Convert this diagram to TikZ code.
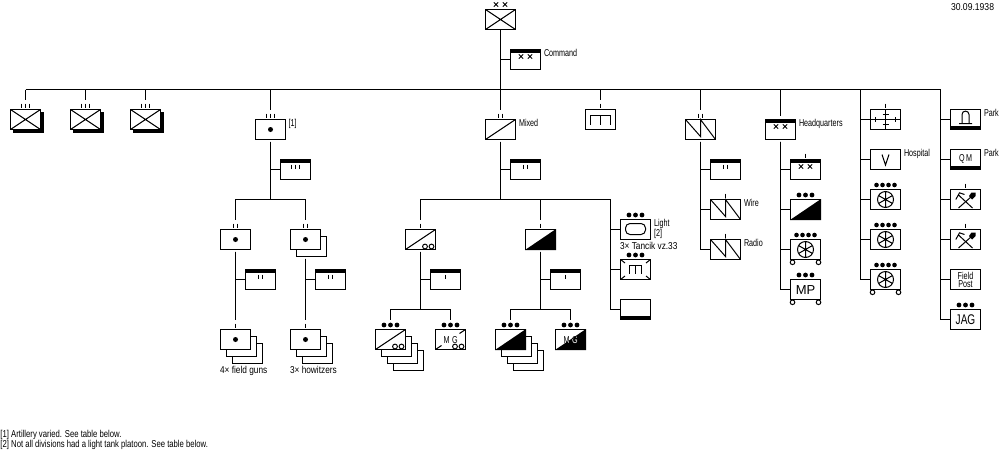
\documentclass[tikz,border=0pt]{standalone}
\usepackage{fontspec}
\newfontfamily\labf[FakeStretch=0.72]{Liberation Sans}
\newfontfamily\labn[FakeStretch=0.77]{Liberation Sans}
\newfontfamily\labw[FakeStretch=0.83]{Liberation Sans}
\newfontfamily\labd[FakeStretch=0.86]{Liberation Sans}
\newfontfamily\bigf{Liberation Sans}
\tikzset{
  ubox/.style={draw=black,fill=white,line width=1pt,inner sep=0pt,outer sep=0pt,minimum width=30pt,minimum height=20pt,anchor=north west,rectangle},
  lab/.style={inner sep=0pt,outer sep=0pt,font=\labf\fontsize{10}{10}\selectfont,text=black,anchor=base west},
  labnote/.style={lab,font=\labn\fontsize{10}{10}\selectfont},
  labwide/.style={lab,font=\labw\fontsize{10}{10}\selectfont},
  labdate/.style={lab,font=\labd\fontsize{10}{10}\selectfont},
  inlab/.style={inner sep=0pt,outer sep=0pt,font=\labf\fontsize{10}{10}\selectfont,text=black,anchor=center},
  postlab/.style={inlab,align=center,font=\labf\fontsize{10}{7.6}\selectfont},
  biglab/.style={inner sep=0pt,outer sep=0pt,font=\bigf\fontsize{13}{13}\selectfont,text=black,anchor=center},
  conn/.style={draw=black,line width=1pt},
}
\newcommand\Unit[3]{\node[ubox] (#1) at ({#2+.5},{#3+.5}) {};}
\newcommand\Stack[4]{\foreach \k in {#4,...,1}{\node[ubox] (#1r\k) at ({#2+.5+6*\k},{#3+.5+7*\k}) {};}\node[ubox] (#1) at ({#2+.5},{#3+.5}) {};}
\newcommand\Sym[2]{\begin{scope}[shift={(#1.center)}]#2\end{scope}}
\newcommand\Lab[4]{\node[lab] (#1) at (#2,#3) {#4};}
\newcommand\LabS[5]{\node[#1] (#2) at (#3,#4) {#5};}
% echelon marks above node
\newcommand\BarA[1]{\Sym{#1}{\draw (0,-16) -- (0,-12);}}
\newcommand\BarB[1]{\Sym{#1}{\draw (-2,-16) -- (-2,-12) (2,-16) -- (2,-12);}}
\newcommand\BarC[1]{\Sym{#1}{\draw (-4,-16) -- (-4,-12) (0,-16) -- (0,-12) (4,-16) -- (4,-12);}}
\newcommand\DotsC[1]{\Sym{#1}{\fill (-6.5,-14.5) circle[radius=2.4pt] (0,-14.5) circle[radius=2.4pt] (6.5,-14.5) circle[radius=2.4pt];}}
\newcommand\DotsD[1]{\Sym{#1}{\fill (-9,-14.5) circle[radius=2.3pt] (-3,-14.5) circle[radius=2.3pt] (3,-14.5) circle[radius=2.3pt] (9,-14.5) circle[radius=2.3pt];}}
\newcommand\TopBand[1]{\Sym{#1}{\fill (-15.5,-10.5) rectangle (15.5,-6.5);}}
\newcommand\BotBand[1]{\Sym{#1}{\fill (-15.5,6.5) rectangle (15.5,10.5);}}
\newcommand\Xs[3]{\Sym{#1}{\draw[line width=.8pt] ({-4.5-2.2},{#2-2.2}) -- ({-4.5+2.2},{#2+2.2}) ({-4.5-2.2},{#2+2.2}) -- ({-4.5+2.2},{#2-2.2}) ({4.5-2.2},{#2-2.2}) -- ({4.5+2.2},{#2+2.2}) ({4.5-2.2},{#2+2.2}) -- ({4.5+2.2},{#2-2.2});}}
\newcommand\Infantry[1]{\Sym{#1}{\draw[line width=1pt] (-15,-10) -- (15,10) (-15,10) -- (15,-10);}}
\newcommand\Art[1]{\Sym{#1}{\fill (0,0) circle[radius=2.5pt];}}
\newcommand\Diag[1]{\Sym{#1}{\draw[line width=1pt] (-15,10) -- (15,-10);}}
\newcommand\Half[1]{\Sym{#1}{\fill (-15.5,10.5) -- (15.5,-10.5) -- (15.5,10.5) -- cycle;}}
\newcommand\Oo[1]{\Sym{#1}{\draw[line width=1pt,fill=white] (4.5,7) circle[radius=2.4pt] (11,7) circle[radius=2.4pt];}}
\newcommand\Bolt[1]{\Sym{#1}{\draw[line width=1pt] (-15,-10) -- (0,7) -- (0,-10) -- (15,10);}}
\newcommand\Wheel[1]{\Sym{#1}{\draw[line width=1pt] (0,0) circle[radius=8pt] (0,-8) -- (0,8) (-7,-4) -- (7,4) (-7,4) -- (7,-4);\fill (0,0) circle[radius=1.2pt];}}
\newcommand\Tyres[1]{\Sym{#1}{\draw[line width=1pt,fill=white] (-13,12.8) circle[radius=2.3pt] (13,12.8) circle[radius=2.3pt];}}
\newcommand\PiSym[3]{\Sym{#1}{\draw[line width=1pt] ({-#2},#3) -- ({-#2},-4) -- (#2,-4) -- (#2,#3) (0,-4) -- (0,#3);}}
\newcommand\Pick[1]{\Sym{#1}{\draw[line width=1pt] (-7,-4.5) -- (7,8.5) (-7,8.5) -- (6,-3) (-9.7,0) -- (-6,-6.7) -- (-1,-5);\fill (3.5,-3.5) -- (6,-7) -- (10,-7) -- (10,-3.5) -- (6.5,0) -- cycle;}}
\begin{document}
\begin{tikzpicture}[x=1pt,y=-1pt,line width=1pt]
\useasboundingbox (0,0) rectangle (1000,450);
\fill[white] (0,0) rectangle (1000,450);

% --- named junctions
\coordinate (bus) at (0,89.5);
\coordinate (cN) at (860.5,89.5);
\coordinate (cE) at (940.5,89.5);
\coordinate (artT) at (270.5,199.5);
\coordinate (mixT) at (500.5,199.5);
\coordinate (cM) at (610.5,199.5);
\coordinate (m1T) at (420.5,309.5);
\coordinate (m2T) at (540.5,309.5);

% --- shadows of the regiments
\fill (13,112) rectangle (44,133);
\fill (73,112) rectangle (104,133);
\fill (133,112) rectangle (164,133);

% --- units
\Unit{div}{485}{9}
\Unit{divhq}{510}{49}
\Unit{reg1}{10}{109}
\Unit{reg2}{70}{109}
\Unit{reg3}{130}{109}
\Unit{art}{255}{119}
\Unit{arthq}{280}{159}
\Unit{mix}{485}{119}
\Unit{mixhq}{510}{159}
\Unit{eng}{585}{109}
\Unit{sig}{685}{119}
\Unit{sighq}{710}{159}
\Unit{wire}{710}{199}
\Unit{radio}{710}{239}
\Unit{hq}{765}{119}
\Unit{hqa}{790}{159}
\Unit{hqb}{790}{199}
\Unit{hqc}{790}{239}
\Unit{hqd}{790}{279}
\Unit{sup}{870}{109}
\Unit{hosp}{870}{149}
\Unit{meda}{870}{189}
\Unit{medb}{870}{229}
\Unit{medc}{870}{269}
\Unit{park}{950}{109}
\Unit{qm}{950}{149}
\Unit{picka}{950}{189}
\Unit{pickb}{950}{229}
\Unit{post}{950}{269}
\Unit{jag}{950}{309}
\Unit{bat}{220}{229}
\Stack{how}{290}{229}{1}
\Unit{bathq}{245}{269}
\Unit{howhq}{315}{269}
\Stack{gun}{220}{329}{2}
\Stack{hwz}{290}{329}{2}
\Unit{ma}{405}{229}
\Unit{mb}{525}{229}
\Unit{mahq}{430}{269}
\Unit{mbhq}{550}{269}
\Stack{mav}{375}{329}{3}
\Unit{mmg}{435}{329}
\Stack{mbv}{495}{329}{3}
\Unit{nmg}{555}{329}
\Unit{ltk}{620}{219}
\Unit{mec}{620}{259}
\Unit{trn}{620}{299}

% --- connectors
\draw[conn] (div.south) -- ([yshift=10pt]mix.north);
\draw[conn] (reg1 |- bus) -- (cE);
\draw[conn] (div.south |- divhq.west) -- (divhq.west);
\draw[conn] (reg1 |- bus) -- ([yshift=10pt]reg1.north);
\draw[conn] (reg2 |- bus) -- ([yshift=10pt]reg2.north);
\draw[conn] (reg3 |- bus) -- ([yshift=10pt]reg3.north);
\draw[conn] (art |- bus) -- ([yshift=10pt]art.north);
\draw[conn] (eng |- bus) -- ([yshift=10pt]eng.north);
\draw[conn] (sig |- bus) -- ([yshift=10pt]sig.north);
\draw[conn] (hq |- bus) -- ([yshift=4pt]hq.north);
\draw[conn] (cN) |- (sup.west);
\draw[conn] (cN) |- (hosp.west);
\draw[conn] (cN) |- (meda.west);
\draw[conn] (cN) |- (medb.west);
\draw[conn] (cN) |- (medc.west);
\draw[conn] (cE) |- (park.west);
\draw[conn] (cE) |- (qm.west);
\draw[conn] (cE) |- (picka.west);
\draw[conn] (cE) |- (pickb.west);
\draw[conn] (cE) |- (post.west);
\draw[conn] (cE) |- (jag.west);
\draw[conn] ([yshift=-2pt]art.south) -- (artT);
\draw[conn] ([yshift=-2pt]art.south) |- (arthq.west);
\draw[conn] (artT) -| ([yshift=10pt]bat.north);
\draw[conn] (artT) -| ([yshift=10pt]how.north);
\draw[conn] ([yshift=-2pt]bat.south) -- ([yshift=10pt]gun.north);
\draw[conn] ([yshift=-2pt]bat.south) |- (bathq.west);
\draw[conn] ([yshift=-2pt]howr1.south -| how) -- ([yshift=10pt]hwz.north);
\draw[conn] ([yshift=-2pt]howr1.south -| how) |- (howhq.west);
\draw[conn] ([yshift=-2pt]mix.south) -- (mixT);
\draw[conn] ([yshift=-2pt]mix.south) |- (mixhq.west);
\draw[conn] (mixT) -| ([yshift=10pt]ma.north);
\draw[conn] (mixT) -| ([yshift=10pt]mb.north);
\draw[conn] (mixT) -- (cM);
\draw[conn] (cM) |- (ltk.west);
\draw[conn] (cM) |- (mec.west);
\draw[conn] (cM) |- (trn.west);
\draw[conn] ([yshift=-2pt]ma.south) -- (m1T);
\draw[conn] ([yshift=-2pt]ma.south) |- (mahq.west);
\draw[conn] (m1T) -| ([yshift=10pt]mav.north);
\draw[conn] (m1T) -| ([yshift=10pt]mmg.north);
\draw[conn] ([yshift=-2pt]mb.south) -- (m2T);
\draw[conn] ([yshift=-2pt]mb.south) |- (mbhq.west);
\draw[conn] (m2T) -| ([yshift=10pt]mbv.north);
\draw[conn] (m2T) -| ([yshift=10pt]nmg.north);
\draw[conn] ([yshift=-2pt]sig.south) |- (radio.west);
\draw[conn] ([yshift=-2pt]sig.south) |- (sighq.west);
\draw[conn] ([yshift=-2pt]sig.south) |- (wire.west);
\draw[conn] ([yshift=-2pt]hq.south) |- (hqa.west);
\draw[conn] ([yshift=-2pt]hq.south) |- (hqb.west);
\draw[conn] ([yshift=-2pt]hq.south) |- (hqc.west);
\draw[conn] ([yshift=-2pt]hq.south) |- (hqd.west);

% --- symbols and marks
\Infantry{div}
\Xs{div}{-15}{}
\TopBand{divhq}\Xs{divhq}{-3}{}
\Infantry{reg1}\BarC{reg1}
\Infantry{reg2}\BarC{reg2}
\Infantry{reg3}\BarC{reg3}
\Art{art}\BarC{art}
\TopBand{arthq}
\Sym{arthq}{\draw (-4,-5) -- (-4,-1) (0,-5) -- (0,-1) (4,-5) -- (4,-1);}
\Art{bat}\BarB{bat}
\Art{how}\BarB{how}
\TopBand{bathq}
\Sym{bathq}{\draw (-2,-5) -- (-2,-1) (2,-5) -- (2,-1);}
\TopBand{howhq}
\Sym{howhq}{\draw (-2,-5) -- (-2,-1) (2,-5) -- (2,-1);}
\Art{gun}\BarA{gun}
\Art{hwz}\BarA{hwz}
\Diag{mix}\BarB{mix}
\TopBand{mixhq}
\Sym{mixhq}{\draw (-2,-5) -- (-2,-1) (2,-5) -- (2,-1);}
\Diag{ma}\Oo{ma}\BarA{ma}
\Half{mb}\BarA{mb}
\TopBand{mahq}\Sym{mahq}{\draw (0,-5) -- (0,-1);}
\TopBand{mbhq}\Sym{mbhq}{\draw (0,-5) -- (0,-1);}
\Diag{mav}\Oo{mav}\DotsC{mav}
\Half{mbv}\DotsC{mbv}
\Sym{mmg}{\draw[line width=1pt] (-15,10) -- (-9,6) (9,-6) -- (15,-10);
  \node[inlab] (mmgM) at (-4,0.5) {M}; \node[inlab] (mmgG) at (4.3,0.5) {G};}
\Oo{mmg}\DotsC{mmg}
\Half{nmg}
\Sym{nmg}{\node[inlab] (nmgA) at (-4,0.5) {M}; \node[inlab] (nmgB) at (4.3,0.5) {G};
  \begin{scope}\clip (-15,10) -- (15,-10) -- (15,10) -- cycle;
  \node[inlab,text=white] (nmgC) at (-4,0.5) {M}; \node[inlab,text=white] (nmgD) at (4.3,0.5) {G};\end{scope}}
\DotsC{nmg}
\Sym{ltk}{\draw[rounded corners=4.5pt] (-10,-6) rectangle (10,5);}
\DotsC{ltk}
\PiSym{eng}{10}{5.5}\BarA{eng}
\Sym{mec}{\draw[line width=1pt] (-15,-10) -- (-10.5,-6.5) (15,-10) -- (10.5,-6.5) (-15,10) -- (-10.5,6.5) (15,10) -- (10.5,6.5);}
\PiSym{mec}{6}{4}\DotsC{mec}
\BotBand{trn}
\Bolt{sig}\BarB{sig}
\TopBand{sighq}
\Sym{sighq}{\draw (-2,-5) -- (-2,-1) (2,-5) -- (2,-1);}
\Bolt{wire}\BarA{wire}
\Bolt{radio}\BarA{radio}
\TopBand{hq}\Xs{hq}{-3}{}
\TopBand{hqa}\Xs{hqa}{-3}{}\BarA{hqa}
\Half{hqb}\DotsC{hqb}
\Wheel{hqc}\Tyres{hqc}\DotsD{hqc}
\Sym{hqd}{\node[biglab] (hqdT) at (0,0.5) {MP};}
\Tyres{hqd}\DotsC{hqd}
\Sym{sup}{\draw[line width=1pt] (-15,0) -- (15,0) (0,-10) -- (0,10) (-10,-2.5) -- (-10,2.5) (10,-2.5) -- (10,2.5) (-3,-5) -- (3,-5) (-3,5) -- (3,5);}
\BarA{sup}
\Sym{hosp}{\draw[line width=1pt] (-3.5,-5) -- (0,5.5) -- (3.5,-5);}
\Wheel{meda}\DotsD{meda}
\Wheel{medb}\DotsD{medb}
\Wheel{medc}\DotsD{medc}\Tyres{medc}
\BotBand{park}
\Sym{park}{\draw[line width=1pt] (-6.5,4) -- (6.5,4) (-3.5,4) -- (-3.5,-5) .. controls (-3.5,-9.5) and (3.5,-9.5) .. (3.5,-5) -- (3.5,4);}
\BotBand{qm}
\Sym{qm}{\node[inlab] (qmQ) at (-3.5,-1) {Q}; \node[inlab] (qmM) at (3.5,-1) {M};}
\Pick{picka}\BarA{picka}
\Pick{pickb}\BarA{pickb}
\Sym{post}{\node[postlab] (postT) at (0,0.3) {Field\\Post};}
\Sym{jag}{\node[inlab,font=\labf\fontsize{14}{14}\selectfont] (jagT) at (0,0.5) {JAG};}
\DotsC{jag}

% --- labels
\Lab{tCommand}{544}{56}{Command}
\Lab{tOne}{288.5}{126}{[1]}
\Lab{tMixed}{519}{126}{Mixed}
\Lab{tHq}{799}{126}{Headquarters}
\Lab{tHosp}{904}{156}{Hospital}
\Lab{tParkA}{984}{116}{Park}
\Lab{tParkB}{984}{156}{Park}
\LabS{labdate}{tDate}{951}{10}{30.09.1938}
\Lab{tWire}{744}{206.5}{Wire}
\Lab{tRadio}{744}{246}{Radio}
\Lab{tLight}{654}{226}{Light}
\Lab{tTwo}{654}{236}{[2]}
\LabS{labwide}{tTancik}{620}{249}{3× Tancik vz.33}
\LabS{labwide}{tGuns}{220}{373}{4× field guns}
\LabS{labwide}{tHow}{290}{373}{3× howitzers}
\LabS{labnote}{tNoteA}{0.5}{437}{[1] Artillery varied. See table below.}
\LabS{labnote}{tNoteB}{0.5}{447}{[2] Not all divisions had a light tank platoon. See table below.}
\end{tikzpicture}
\end{document}
